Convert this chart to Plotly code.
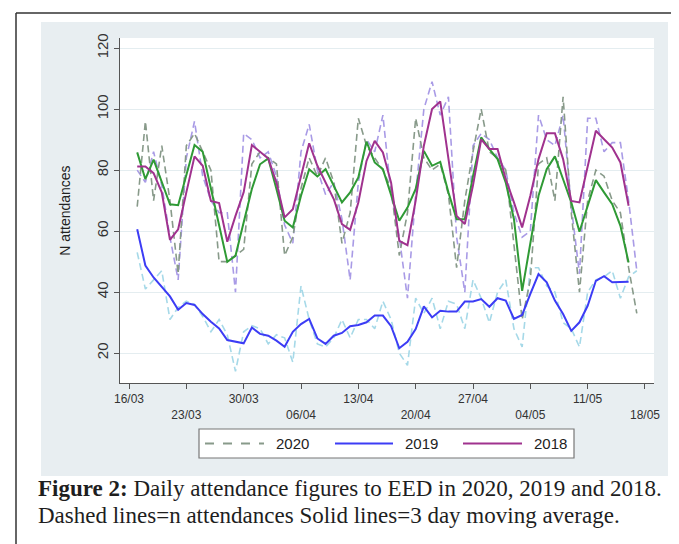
import pandas as pd
import plotly.graph_objects as go

# ---------------- data ----------------
dates = pd.date_range("2020-03-17", periods=62, freq="D")

# daily attendances (dashed)
daily_2020 = [68, 96, 70, 88, 70, 46, 88, 92, 86, 80, 50, 50, 52, 54, 82, 86, 84, 82, 52, 58,
              74, 84, 78, 84, 76, 56, 66, 97, 88, 84, 80, 74, 52, 66, 97, 84, 80, 82, 72, 48,
              70, 86, 100, 86, 84, 80, 56, 31, 44, 82, 84, 70, 104, 66, 40, 70, 80, 78, 70, 66,
              48, 33]
daily_2019 = [53, 41, 44, 47, 31, 35, 37, 36, 32, 27, 31, 26, 14, 27, 29, 28, 23, 26, 25, 17,
              42, 31, 23, 22, 25, 31, 25, 31, 31, 28, 37, 31, 20, 16, 38, 33, 38, 28, 37, 36,
              28, 44, 38, 30, 40, 44, 28, 22, 48, 48, 42, 40, 30, 28, 22, 40, 44, 45, 47, 38,
              45, 47]
daily_2018 = [80, 76, 86, 75, 58, 44, 84, 96, 78, 70, 66, 66, 40, 92, 90, 84, 86, 78, 62, 56,
              86, 95, 80, 72, 76, 64, 44, 76, 90, 86, 98, 72, 58, 38, 72, 100, 109, 98, 104, 58,
              40, 88, 92, 90, 84, 80, 66, 58, 60, 98, 90, 88, 98, 68, 46, 97, 97, 86, 89, 89,
              70, 47]

# 3 day moving averages (solid)
ma_2020 = [85.8, 77.0, 83.4, 75.9, 68.8, 68.5, 78.3, 88.2, 86.0, 73.8, 61.7, 49.9, 51.9, 62.8,
           73.8, 81.9, 83.8, 73.8, 63.4, 61.2, 71.6, 80.3, 77.9, 80.3, 74.9, 69.4, 72.7, 77.6,
           89.3, 82.5, 80.3, 71.6, 63.4, 67.7, 73.8, 86.3, 81.4, 82.7, 72.7, 63.9, 63.9, 78.0,
           90.7, 86.9, 83.6, 75.9, 63.9, 40.4, 56.3, 71.6, 80.3, 84.5, 77.0, 69.4, 59.8, 68.3,
           76.7, 72.7, 68.8, 61.7, 49.7]
ma_2019 = [60.6, 48.7, 44.8, 41.6, 38.6, 34.2, 36.4, 35.8, 32.8, 30.3, 28.1, 24.3, 23.7, 23.2,
           28.4, 26.3, 25.7, 24.1, 22.1, 27.0, 29.5, 31.2, 24.8, 23.0, 25.7, 26.6, 28.8, 29.2,
           30.1, 32.3, 32.3, 28.8, 21.6, 23.7, 27.9, 35.3, 31.7, 33.9, 33.6, 33.6, 36.9, 36.9,
           37.7, 35.2, 38.0, 37.2, 31.2, 32.5, 39.4, 45.9, 43.2, 37.2, 32.8, 27.3, 30.1, 35.5,
           43.7, 45.2, 43.2, 43.4, 43.4]
ma_2018 = [81.2, 81.2, 79.0, 72.7, 57.1, 60.6, 72.7, 84.5, 81.4, 69.9, 69.2, 56.5, 65.0, 72.7,
           88.2, 86.0, 83.8, 75.9, 64.5, 67.2, 78.1, 88.8, 81.4, 75.9, 70.5, 62.3, 60.4, 69.4,
           83.0, 89.6, 85.8, 75.9, 56.8, 55.4, 70.0, 88.0, 100.0, 102.5, 83.6, 65.0, 62.3, 75.0,
           90.1, 86.9, 86.9, 77.0, 69.4, 61.2, 71.6, 83.6, 92.1, 92.1, 83.6, 69.9, 69.4, 81.4,
           92.9, 90.1, 87.4, 82.5, 68.3]

tick_dates = ["2020-03-16", "2020-03-23", "2020-03-30", "2020-04-06", "2020-04-13",
              "2020-04-20", "2020-04-27", "2020-05-04", "2020-05-11", "2020-05-18"]
tick_labels = ["16/03", "23/03", "30/03", "06/04", "13/04", "20/04", "27/04", "04/05", "11/05", "18/05"]
y_ticks = [20, 40, 60, 80, 100, 120]
legend_names = ["2020", "2019", "2018"]

# ---------------- styles ----------------
C_GRAY = "#889a8a"
C_LPURP = "#a99be6"
C_LBLUE = "#a6d9e8"
C_GREEN = "#2f9a35"
C_PURP = "#a0328e"
C_BLUE = "#3c3cf5"
DASH = "7px,4px"
SANS = "Liberation Sans, Arial, sans-serif"
SERIF = "Liberation Serif, Times New Roman, serif"

fig = go.Figure()
fig.add_trace(go.Scatter(x=dates, y=daily_2019, mode="lines",
                         line=dict(color=C_LBLUE, width=1.6, dash=DASH), showlegend=False))
fig.add_trace(go.Scatter(x=dates, y=daily_2018, mode="lines",
                         line=dict(color=C_LPURP, width=1.6, dash=DASH), showlegend=False))
fig.add_trace(go.Scatter(x=dates, y=daily_2020, mode="lines",
                         line=dict(color=C_GRAY, width=1.6, dash=DASH), showlegend=False))
fig.add_trace(go.Scatter(x=dates[:61], y=ma_2020, mode="lines",
                         line=dict(color=C_GREEN, width=2), showlegend=False))
fig.add_trace(go.Scatter(x=dates[:61], y=ma_2018, mode="lines",
                         line=dict(color=C_PURP, width=2), showlegend=False))
fig.add_trace(go.Scatter(x=dates[:61], y=ma_2019, mode="lines",
                         line=dict(color=C_BLUE, width=2), showlegend=False))

# plot area geometry in pixels
L, R, T, B = 112, 646, 30, 375
W, H = R - L, B - T


def px(x):
    return (x - L) / W


def py(y):
    return (B - y) / H


shapes = [
    # graph region (light blue-gray)
    dict(type="rect", xref="paper", yref="paper", x0=px(33), x1=px(660), y0=py(468), y1=py(14),
         fillcolor="#e8eef1", line=dict(width=0), layer="below"),
    # plot region (white)
    dict(type="rect", xref="paper", yref="paper", x0=0, x1=1, y0=0, y1=1,
         fillcolor="white", line=dict(width=0), layer="below"),
    # outer frame
    dict(type="line", xref="paper", yref="paper", x0=px(8), x1=px(8), y0=py(560), y1=py(5),
         line=dict(color="#333333", width=1.5)),
    dict(type="line", xref="paper", yref="paper", x0=px(8), x1=px(690), y0=py(5), y1=py(5),
         line=dict(color="#333333", width=1.5)),
    # legend box
    dict(type="rect", xref="paper", yref="paper", x0=px(191), x1=px(566), y0=py(450), y1=py(421),
         fillcolor="white", line=dict(color="#777777", width=1.2)),
]
leg_y = py(435.5)
leg_items = [(197, 256, C_GRAY, "dash", 266),
             (327, 385, C_BLUE, "solid", 395),
             (455, 514, C_PURP, "solid", 524)]
annotations = []
for (x0, x1, col, dsh, tx), name in zip(leg_items, legend_names):
    shapes.append(dict(type="line", xref="paper", yref="paper", x0=px(x0), x1=px(x1),
                       y0=leg_y, y1=leg_y,
                       line=dict(color=col, width=2 if dsh == "solid" else 1.8, dash=dsh)))
    annotations.append(dict(xref="paper", yref="paper", x=px(tx), y=leg_y, text=name,
                            showarrow=False, xanchor="left", yanchor="middle",
                            font=dict(family=SANS, size=15, color="#222222")))

annotations.append(dict(xref="paper", yref="paper", x=px(28), y=py(480),
                        text="<b>Figure 2:</b> Daily attendance figures to EED in 2020, 2019 and 2018.",
                        showarrow=False, xanchor="left", yanchor="middle",
                        font=dict(family=SERIF, size=23, color="#1e1e1e")))
annotations.append(dict(xref="paper", yref="paper", x=px(28), y=py(507),
                        text="Dashed lines=n attendances Solid lines=3 day moving average.",
                        showarrow=False, xanchor="left", yanchor="middle",
                        font=dict(family=SERIF, size=23, color="#1e1e1e")))

alt_labels = [t if i % 2 == 0 else "<br>" + t for i, t in enumerate(tick_labels)]

fig.update_layout(
    width=679, height=544,
    margin=dict(l=L, r=679 - R, t=T, b=544 - B, autoexpand=False),
    paper_bgcolor="white", plot_bgcolor="white",
    showlegend=False,
    shapes=shapes, annotations=annotations,
    xaxis=dict(type="date", range=["2020-03-14 21:36", "2020-05-19 02:24"],
               tickvals=tick_dates, ticktext=alt_labels, ticks="outside", ticklen=5,
               tickcolor="#555555", showline=True, linecolor="#555555", linewidth=1,
               showgrid=False, zeroline=False,
               tickfont=dict(family=SANS, size=12, color="#333333")),
    yaxis=dict(range=[10.2, 123.3], tickvals=y_ticks, ticks="outside", ticklen=5,
               tickcolor="#555555", showline=True, linecolor="#555555", linewidth=1,
               showgrid=True, gridcolor="#e4edf0", gridwidth=1, zeroline=False,
               tickangle=-90, tickfont=dict(family=SANS, size=15, color="#333333"),
               title=dict(text="N attendances", standoff=20,
                          font=dict(family=SANS, size=14, color="#222222"))),
)

fig.write_html("out.html")
